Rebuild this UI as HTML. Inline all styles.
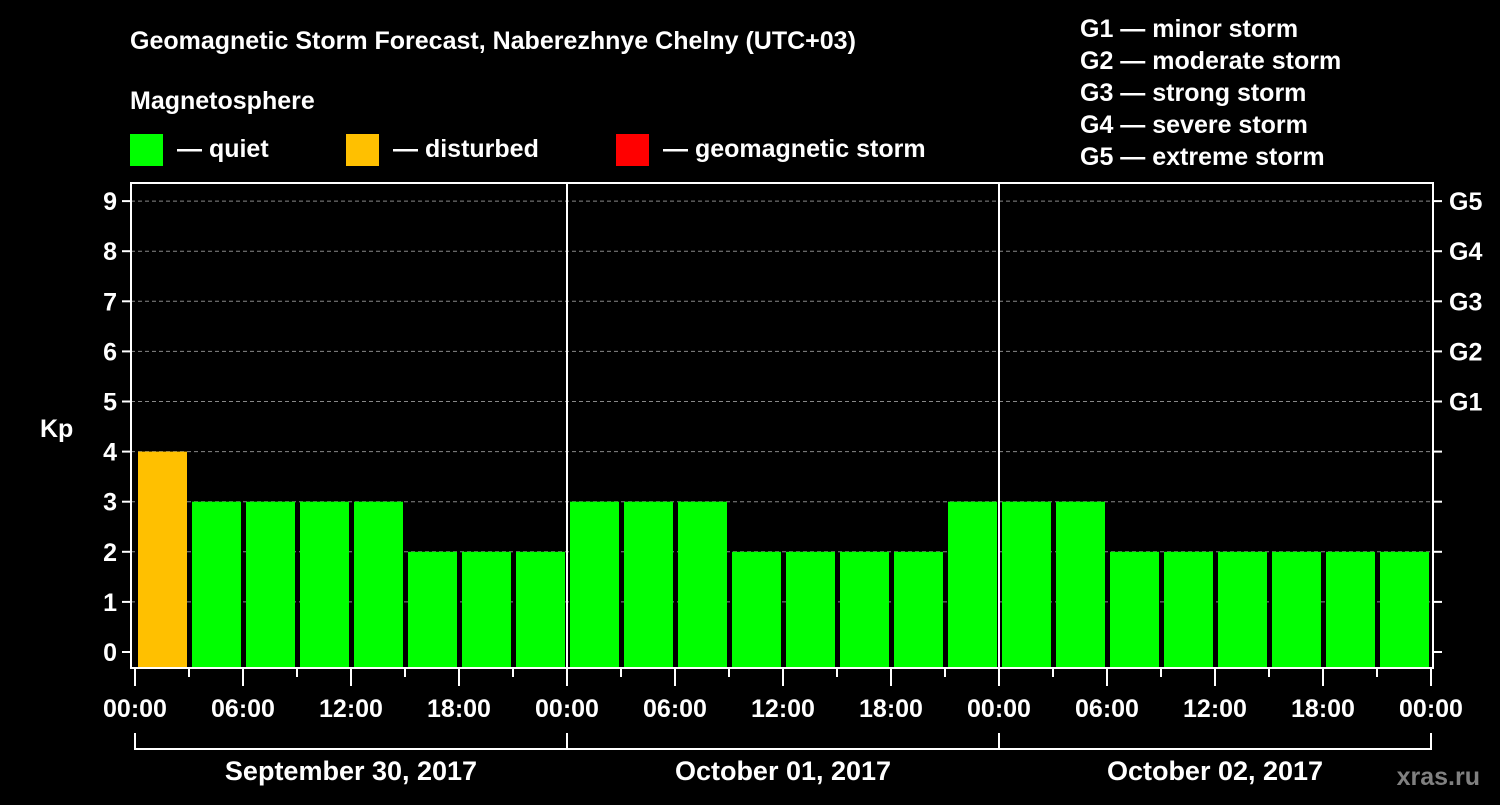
<!DOCTYPE html>
<html><head><meta charset="utf-8"><style>
body{margin:0;background:#000;}
svg text{font-family:"Liberation Sans",sans-serif;font-weight:bold;fill:#fff;}
</style></head><body>
<svg width="1500" height="800" xmlns="http://www.w3.org/2000/svg">
<rect width="1500" height="800" fill="#000"/>
<text x="130" y="49" font-size="25">Geomagnetic Storm Forecast, Naberezhnye Chelny (UTC+03)</text>
<text x="130" y="109" font-size="25">Magnetosphere</text>
<g><rect x="130" y="134" width="33" height="32" fill="#00ff00"/><text x="177" y="157" font-size="25">— quiet</text></g>
<g><rect x="346" y="134" width="33" height="32" fill="#ffc000"/><text x="393" y="157" font-size="25">— disturbed</text></g>
<g><rect x="616" y="134" width="33" height="32" fill="#ff0000"/><text x="663" y="157" font-size="25">— geomagnetic storm</text></g>
<g font-size="25">
<text x="1080" y="37">G1 — minor storm</text>
<text x="1080" y="69">G2 — moderate storm</text>
<text x="1080" y="101">G3 — strong storm</text>
<text x="1080" y="133">G4 — severe storm</text>
<text x="1080" y="165">G5 — extreme storm</text>
</g>
<text x="40" y="437" font-size="25">Kp</text>
<text x="1480" y="785" font-size="25" fill="#777" style="fill:#808080" text-anchor="end">xras.ru</text>
<g id="plot"></g>
</svg>
<script>
const kpValues=[4,3,3,3,3,2,2,2, 3,3,3,2,2,2,2,3, 3,3,2,2,2,2,2,2];
const yTicks=[0,1,2,3,4,5,6,7,8,9];
const gLabels=["G1","G2","G3","G4","G5"];
const xTickLabels=["00:00","06:00","12:00","18:00","00:00","06:00","12:00","18:00","00:00","06:00","12:00","18:00","00:00"];
const dayLabels=["September 30, 2017","October 01, 2017","October 02, 2017"];

const NS="http://www.w3.org/2000/svg";
const g=document.getElementById('plot');
const x0=135, dayW=432, barW=dayW/8;
const L=131,R=1433,T=183,B=668;
function yS(v){return 652-50.1*v;}
function xS(i){return x0+i*barW;}
function el(t,a,txt){const e=document.createElementNS(NS,t);for(const k in a)e.setAttribute(k,a[k]);if(txt!=null)e.textContent=txt;g.appendChild(e);return e;}
function color(v){return v>=5?'#ff0000':(v>=4?'#ffc000':'#00ff00');}
yTicks.forEach(v=>{
  if(v>0){const l=el('line',{x1:L,x2:R,y1:yS(v),y2:yS(v),stroke:'#888','stroke-dasharray':'4,3','stroke-width':1});
  }
  const t=el('line',{x1:L-9,x2:L,y1:yS(v),y2:yS(v),stroke:'#fff','stroke-width':2});
  
  const rt=el('line',{x1:R,x2:R+9,y1:yS(v),y2:yS(v),stroke:'#fff','stroke-width':2});
  
  const tx=el('text',{x:L-14,y:yS(v)+9,'font-size':25,'text-anchor':'end'},String(v));
  
});
gLabels.forEach((s,i)=>{
  const tx=el('text',{x:1449,y:yS(5+i)+9,'font-size':25},s);
  
});
kpValues.forEach((v,i)=>{
  const r=el('rect',{x:xS(i)+3,y:yS(v),width:barW-5,height:B-yS(v),fill:color(v)});
  
});
const f=el('rect',{x:L,y:T,width:R-L,height:B-T,fill:'none',stroke:'#fff','stroke-width':2});

for(let d=1;d<dayLabels.length;d++){
  const l=el('line',{x1:x0+d*dayW,x2:x0+d*dayW,y1:T,y2:B,stroke:'#fff','stroke-width':2});
  
}
for(let i=0;i<=24;i++){
  const long=i%2==0;
  const l=el('line',{x1:xS(i),x2:xS(i),y1:B,y2:long?686:677,stroke:'#fff','stroke-width':2});
  
}
xTickLabels.forEach((s,i)=>{
  const tx=el('text',{x:xS(i*2),y:717,'font-size':25,'text-anchor':'middle'},s);
  
});
const br=el('line',{x1:x0,x2:x0+3*dayW,y1:749,y2:749,stroke:'#fff','stroke-width':2});

for(let d=0;d<=dayLabels.length;d++){
  const l=el('line',{x1:x0+d*dayW,x2:x0+d*dayW,y1:733,y2:750,stroke:'#fff','stroke-width':2});
  
}
dayLabels.forEach((s,d)=>{
  const tx=el('text',{x:x0+d*dayW+dayW/2,y:780,'font-size':27,'text-anchor':'middle'},s);
  
});
</script>
</body></html>
